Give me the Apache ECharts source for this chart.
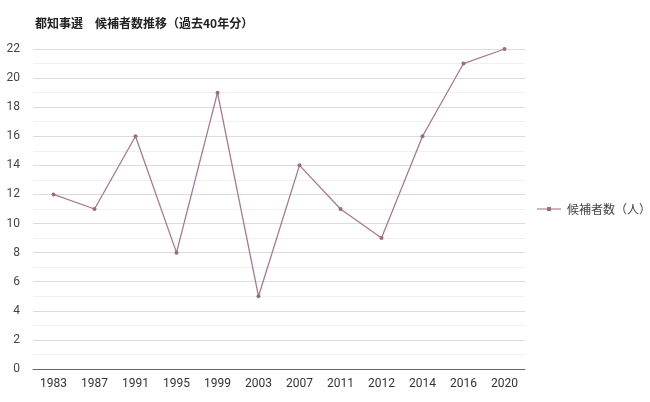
<!DOCTYPE html>
<html><head><meta charset="utf-8">
<script src="https://cdn.jsdelivr.net/npm/echarts@6/dist/echarts.min.js"></script>
<style>html,body{margin:0;padding:0;background:#fff}#c{width:650px;height:402px}</style>
</head><body><div id="c"></div>
<script>
const categories = ['1983','1987','1991','1995','1999','2003','2007','2011','2012','2014','2016','2020'];
const candidates = [12,11,16,8,19,5,14,11,9,16,21,22];
const seriesName = '候補者数（人）';
const titleText = '都知事選　候補者数推移（過去40年分）';
const chart = echarts.init(document.getElementById('c'));
const font = '"Noto Sans CJK JP", Roboto, sans-serif';
chart.setOption({
  animation: false,
  title: { text: titleText, left: 30, top: 12, textStyle: { fontSize: 12, fontWeight: 'bold', color: '#222', fontFamily: font } },
  legend: { orient: 'vertical', left: 537, top: 203, padding: 0, itemWidth: 24, itemHeight: 8, itemGap: 8,
    data: [{ name: seriesName, icon: 'path://M0,4.5L24,4.5L24,5.5L0,5.5Z M10,3L14,3L14,7L10,7Z' }],
    textStyle: { fontSize: 12, color: '#444', fontFamily: font, padding: [0, 0, 0, 1] } },
  grid: { left: 33, right: 125, top: 49, bottom: 33, containLabel: false },
  xAxis: { type: 'category', data: categories, boundaryGap: true,
    axisLine: { lineStyle: { color: '#666' } }, axisTick: { show: false },
    axisLabel: { color: '#333', fontSize: 12, margin: 9, fontFamily: 'Roboto, sans-serif' } },
  yAxis: { type: 'value', min: 0, max: 22, interval: 2,
    axisLabel: { color: '#444', fontSize: 12, margin: 13, fontFamily: 'Roboto, sans-serif' },
    splitLine: { lineStyle: { color: '#dcdcdc' } },
    minorTick: { show: false, splitNumber: 2 },
    minorSplitLine: { show: true, lineStyle: { color: '#f0f0f0' } } },
  series: [{ name: seriesName, type: 'line', data: candidates, symbol: 'circle', symbolSize: 4,
    lineStyle: { color: '#a97890', width: 1.3 }, itemStyle: { color: '#9c6a82' } }]
});
</script></body></html>
